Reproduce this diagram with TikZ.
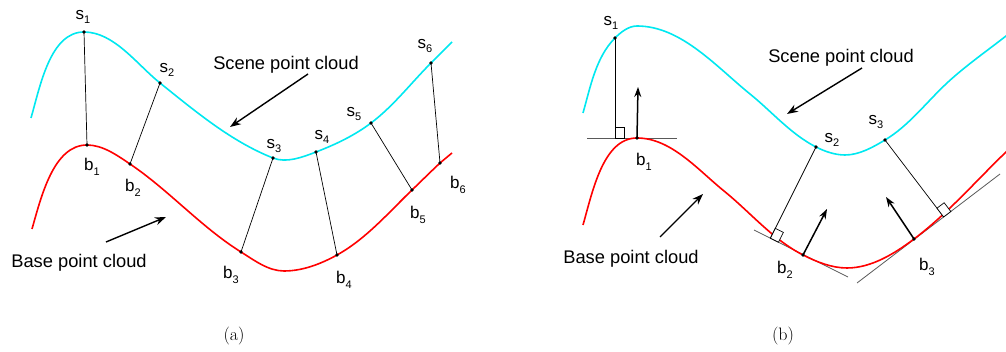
\documentclass[tikz,border=0pt]{standalone}
\usepackage{fontspec}
\newfontfamily\labfont{Liberation Sans}
\usetikzlibrary{arrows.meta,calc}
\definecolor{scenecyan}{RGB}{0,232,240}
\newcommand\lbl[2]{#1\raisebox{-0.5ex}{\fontsize{11}{12}\selectfont #2}}
\begin{document}
\begin{tikzpicture}[x=1pt,y=1pt,
  curve/.style={line width=1.6pt},
  link/.style={line width=0.7pt,draw=black},
  tang/.style={line width=0.8pt,draw=black!65},
  dot/.style={circle,fill=black,inner sep=0pt,minimum size=3.6pt},
  lab/.style={font=\labfont\fontsize{17}{20}\selectfont,inner sep=0pt},
  big/.style={font=\labfont\fontsize{18.3}{22}\selectfont,inner sep=0pt},
  captext/.style={font=\fontsize{18}{20}\selectfont,inner sep=0pt},
  pointer/.style={line width=1.4pt,-{Stealth[length=11pt,width=8pt]}},
  normalarrow/.style={line width=1.5pt,-{Stealth[length=10pt,width=7pt]}},
  rbox/.style={line width=0.7pt,draw=black,fill=white}]
\useasboundingbox (0,0) rectangle (1006,352);

% ---------------- panel (a) ----------------
\coordinate (as1) at (84,320);
\coordinate (as2) at (160,269);
\coordinate (as3) at (273,194);
\coordinate (as4) at (316,200);
\coordinate (as5) at (371,229);
\coordinate (as6) at (431,289);
\coordinate (ab1) at (87,207);
\coordinate (ab2) at (130,188);
\coordinate (ab3) at (241,100);
\coordinate (ab4) at (337,97);
\coordinate (ab5) at (412,162);
\coordinate (ab6) at (440,189);
\draw[curve,scenecyan] (31,234) .. controls (40.3,266.4) and (50.3,320) .. (as1)
  .. controls (114,320) and (136.6,287.8) .. (as2)
  .. controls (195.1,240.9) and (231,210.6) .. (as3)
  .. controls (286.4,188.6) and (302.5,194.8) .. (as4)
  .. controls (335.3,207.4) and (354.5,216.5) .. (as5)
  .. controls (393.6,246) and (411,269) .. (as6)
  -- (452,310);
\draw[curve,red] (32,123) .. controls (41.2,155.2) and (53.5,207) .. (ab1)
  .. controls (102.7,207) and (117,196.8) .. (ab2)
  .. controls (169.1,161.6) and (201,125) .. (ab3)
  .. controls (254.3,91.7) and (268.3,81) .. (284,81)
  .. controls (302.5,81) and (320.8,88) .. (ab4)
  .. controls (365.9,113) and (388.3,139.1) .. (ab5)
  .. controls (421.4,171) and (430.5,180.1) .. (ab6)
  -- (452,199);
\foreach \i in {1,...,6}{
  \draw[link] (as\i) -- (ab\i);
  \node[dot] at (as\i) {};
  \node[dot] at (ab\i) {};
}
\node[lab] (las1) at (83,335) {\lbl{s}{1}};
\node[lab] (las2) at (167,282) {\lbl{s}{2}};
\node[lab] (las3) at (274,206) {\lbl{s}{3}};
\node[lab] (las4) at (322,215) {\lbl{s}{4}};
\node[lab] (las5) at (354,238) {\lbl{s}{5}};
\node[lab] (las6) at (425,306) {\lbl{s}{6}};
\node[lab] (lab1) at (92,185) {\lbl{b}{1}};
\node[lab] (lab2) at (133,164) {\lbl{b}{2}};
\node[lab] (lab3) at (231,77) {\lbl{b}{3}};
\node[lab] (lab4) at (344,72) {\lbl{b}{4}};
\node[lab] (lab5) at (418,137) {\lbl{b}{5}};
\node[lab] (lab6) at (458,167) {\lbl{b}{6}};
\node[big] (ascene) at (286,287) {Scene point cloud};
\node[big] (abase) at (79,89) {Base point cloud};
\coordinate (asa1) at (308,278);
\coordinate (asa2) at (230,225);
\coordinate (aba1) at (106,110);
\coordinate (aba2) at (166,135);
\draw[pointer] (asa1) -- (asa2);
\draw[pointer] (aba1) -- (aba2);
\node[captext] (capa) at (234,16) {(a)};

% ---------------- panel (b) ----------------
\coordinate (t1a) at (587,214); \coordinate (t1b) at (677,214);
\coordinate (t2a) at (754,122); \coordinate (t2b) at (848,75);
\coordinate (t3a) at (857,69);  \coordinate (t3b) at (1000,178);
\coordinate (bs1) at (615,314);
\coordinate (bs2) at (816,205);
\coordinate (bs3) at (885,212);
\coordinate (bb1) at (637,214);
\coordinate (bb2) at (803,97);
\coordinate (bb3) at (914,113);
\draw[tang] (t1a) -- (t1b);
\draw[tang] (t2a) -- (t2b);
\draw[tang] (t3a) -- (t3b);
\begin{scope}
\clip (0,0) rectangle (1006,352);
\draw[curve,scenecyan] (583,239) .. controls (590.4,265) and (595.9,294.9) .. (bs1)
  .. controls (620.9,319.9) and (628.6,326) .. (637,326)
  .. controls (681,326) and (715.8,285.7) .. (750,258)
  .. controls (771.9,240.3) and (790.9,217.8) .. (bs2)
  .. controls (824.9,200.5) and (835,197) .. (845,197)
  .. controls (859.2,197) and (872.8,204.7) .. (bs3)
  .. controls (909,226.4) and (926.5,249.9) .. (947,269)
  .. controls (965.3,286) and (986.3,300.6) .. (1006,316)
  -- (1020,327);
\draw[curve,red] (583,127) .. controls (592.4,159.7) and (603,214) .. (bb1)
  .. controls (671,214) and (697.6,182.4) .. (724,161)
  .. controls (750.3,139.7) and (772.8,112.4) .. (bb2)
  .. controls (816.6,90.1) and (831.7,84) .. (847,84)
  .. controls (871.3,84) and (894.6,98.4) .. (bb3)
  .. controls (947.7,138.4) and (975.6,170.7) .. (1006,200)
  -- (1020,213);
\end{scope}
\foreach \i in {1,2,3}{
  \coordinate (f\i) at ($(t\i a)!(bs\i)!(t\i b)$);
  \coordinate (fu\i) at ($(f\i)!9pt!(t\i b)$);
  \coordinate (fn\i) at ($(f\i)!11pt!(bs\i)$);
  \draw[link] (bs\i) -- (f\i);
  \draw[rbox] (f\i) -- (fu\i) -- ($(fu\i)+(fn\i)-(f\i)$) -- (fn\i) -- cycle;
  \node[dot] at (bs\i) {};
  \node[dot] at (bb\i) {};
}
\coordinate (n1) at (638,265);
\coordinate (n2) at (827,143);
\coordinate (n3) at (886,155);
\draw[normalarrow] (bb1) -- (n1);
\draw[normalarrow] (bb2) -- (n2);
\draw[normalarrow] (bb3) -- (n3);
\node[lab] (lbs1) at (611,329) {\lbl{s}{1}};
\node[lab] (lbs2) at (832,212) {\lbl{s}{2}};
\node[lab] (lbs3) at (876,230) {\lbl{s}{3}};
\node[lab] (lbb1) at (644,190) {\lbl{b}{1}};
\node[lab] (lbb2) at (785,82) {\lbl{b}{2}};
\node[lab] (lbb3) at (927,85) {\lbl{b}{3}};
\node[big] (bscene) at (841,294) {Scene point cloud};
\node[big] (bbase) at (631,93) {Base point cloud};
\coordinate (bsa1) at (862,284);
\coordinate (bsa2) at (787,238);
\coordinate (bba1) at (660,115);
\coordinate (bba2) at (703,158);
\draw[pointer] (bsa1) -- (bsa2);
\draw[pointer] (bba1) -- (bba2);
\node[captext] (capb) at (783,16) {(b)};
\end{tikzpicture}
\end{document}
